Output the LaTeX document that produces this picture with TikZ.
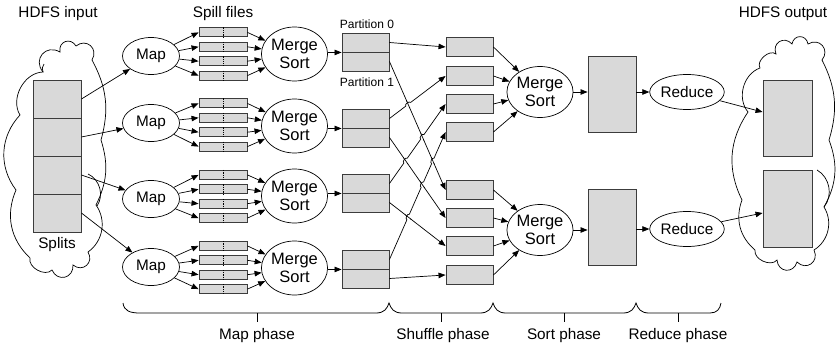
\documentclass[tikz,border=0pt]{standalone}
\usepackage{fontspec}
\setmainfont{Liberation Sans}
\usetikzlibrary{arrows.meta,shapes.geometric,calc,intersections}
\definecolor{boxfill}{RGB}{217,217,217}
\definecolor{boxline}{RGB}{60,60,60}
\newcommand\hopat[6]{%
  \path[name intersections={of=#5 and #6, by=hx}];
  \fill[white] (hx) circle (3pt);
  \draw[line width=0.7pt] ($(hx)!4pt!(#3)$) -- ($(hx)!4pt!(#4)$);
  \draw[line width=0.7pt] ($(hx)!3pt!(#1)$) to[bend left=90] ($(hx)!3pt!(#2)$);
}
\begin{document}
\begin{tikzpicture}[x=1pt,y=-1pt,
  every node/.style={font=\fontsize{15.3}{17}\selectfont},
  gbox/.style={rectangle,draw=boxline,fill=boxfill,line width=0.9pt,inner sep=0pt},
  splitbox/.style={gbox,minimum width=48pt,minimum height=38pt},
  spillbox/.style={gbox,minimum width=48pt,minimum height=9pt},
  partbox/.style={gbox,minimum width=47pt,minimum height=19pt},
  sortbox/.style={gbox,minimum width=48pt,minimum height=76pt},
  oval/.style={ellipse,draw,line width=0.7pt,inner sep=0pt,minimum width=57pt,minimum height=37pt},
  msoval/.style={oval,minimum width=57pt,minimum height=54pt,align=center,font=\fontsize{16.5}{18.5}\selectfont},
  cloudline/.style={line width=0.7pt},
  puff/.style={bend left=80,looseness=1.6},
  arr/.style={-{Triangle[length=7pt,width=5.5pt]},line width=0.7pt},
  smalltxt/.style={font=\fontsize{12}{13}\selectfont},
  brace/.style={line width=0.8pt}
]
\useasboundingbox (0,0) rectangle (836,351);

% input cloud
\draw[cloudline] (20,115) to[bend left=60] (43,72) to[puff] (60,52) to[puff] (76,46)
  to[puff] (92,60) to[bend left=22] (101,140) to[bend left=22] (96,205)
  to[bend left=45] (88,252) to[puff] (73,265) to[puff] (52,270)
  to[bend left=75] (30,258) to[bend left=35] (16,190) to[bend left=40] (20,115) -- cycle;
\draw[cloudline] (88,174) to[bend left=50] (97,206);
\draw[cloudline] (43,72) to[bend left=30] (44,64);
% output cloud
\draw[cloudline] (748,112) to[bend left=55] (760,68) to[bend left=80] (776,54) to[puff] (792,44)
  to[puff] (808,44) to[puff] (822,60) to[bend left=22] (829,140) to[bend left=25] (824,207)
  to[bend left=45] (814,250) to[puff] (797,262) to[puff] (777,260)
  to[bend left=75] (755,250) to[bend left=35] (742,200) to[bend left=30] (748,112) -- cycle;
\draw[cloudline] (817,170) to[bend left=50] (824,207);

% titles
\node (tin) at (58,14) {HDFS input};
\node (tspill) at (223,14) {Spill files};
\node (tout) at (783,14) {HDFS output};

% splits
\node[splitbox] (s1) at (57,99) {};
\node[splitbox] (s2) at (57,137) {};
\node[splitbox] (s3) at (57,175) {};
\node[splitbox] (s4) at (57,213) {};
\node (tsplits) at (57,245) {Splits};

% maps, spills, merge sorts, partitions
\foreach \i/\my/\gy/\sy/\dy in {1/56/54/54/52, 2/123/125/126/128, 3/199/196.5/196/193, 4/267/267.5/268/269}{
  \node[oval] (m\i) at (151,\my) {Map};
  \node[msoval] (ms\i) at (294.5,\sy) {Merge\\Sort};
  \foreach \j/\o in {1/-21.6, 2/-7.2, 3/7.2, 4/21.6}{
    \node[spillbox] (sp\i\j) at (223,\gy+\o) {};
    \draw[line width=0.5pt,dash pattern=on 1.3pt off 1pt] (sp\i\j.north) -- (sp\i\j.south);
    \draw[arr] (m\i) -- (sp\i\j.west);
    \draw[arr] (sp\i\j.east) -- (ms\i);
  }
  \node[partbox] (p\i a) at (365.5,\dy-9.5) {};
  \node[partbox] (p\i b) at (365.5,\dy+9.5) {};
  \draw[arr] (ms\i.east |- p\i a.south west) -- (p\i a.south west);
}
\node[smalltxt] (tp0) at (367,24) {Partition 0};
\node[smalltxt] (tp1) at (367,82) {Partition 1};

% split -> map
\draw[arr] (s1.east) -- (m1);
\draw[arr] (s2.east) -- (m2);
\draw[arr] (s3.east) -- (m3);
\draw[arr] (s4.east) -- (m4);

% shuffle boxes
\foreach \k/\y in {1/47, 2/76, 3/104, 4/132, 5/190, 6/218, 7/246, 8/275}{
  \node[partbox] (sh\k) at (469.5,\y) {};
}
\draw[arr] (p1a.east) -- (sh1.west);
\draw[arr,name path=U2] (p2a.east) -- (sh2.west);
\draw[arr,name path=U3] (p3a.east) -- (sh3.west);
\draw[arr,name path=U4] (p4a.east) -- (sh4.west);
\draw[arr,name path=D1] (p1b.east) -- (sh5.west);
\draw[arr,name path=D2] (p2b.east) -- (sh6.west);
\draw[arr,name path=D3] (p3b.east) -- (sh7.west);
\draw[arr] (p4b.east) -- (sh8.west);
\hopat{p2a.east}{sh2.west}{p1b.east}{sh5.west}{U2}{D1}
\hopat{p3a.east}{sh3.west}{p1b.east}{sh5.west}{U3}{D1}
\hopat{p3a.east}{sh3.west}{p2b.east}{sh6.west}{U3}{D2}
\hopat{p4a.east}{sh4.west}{p1b.east}{sh5.west}{U4}{D1}
\hopat{p4a.east}{sh4.west}{p2b.east}{sh6.west}{U4}{D2}
\hopat{p4a.east}{sh4.west}{p3b.east}{sh7.west}{U4}{D3}

% reduce-side merge sort
\node[msoval,minimum width=58pt,minimum height=51pt] (msr1) at (540,92) {Merge\\Sort};
\node[msoval,minimum width=58pt,minimum height=51pt] (msr2) at (540,230) {Merge\\Sort};
\foreach \k in {1,2,3,4}{ \draw[arr] (sh\k.east) -- (msr1); }
\foreach \k in {5,6,7,8}{ \draw[arr] (sh\k.east) -- (msr2); }

\node[sortbox] (rb1) at (612,94.5) {};
\node[sortbox] (rb2) at (612,227) {};
\draw[arr] (msr1.east) -- (msr1.east -| rb1.west);
\draw[arr] (msr2.east) -- (msr2.east -| rb2.west);

\node[oval,minimum width=66pt,minimum height=35pt] (red1) at (687,92) {Reduce};
\node[oval,minimum width=66pt,minimum height=35pt] (red2) at (687,229) {Reduce};
\draw[arr] (rb1.east |- red1.west) -- (red1.west);
\draw[arr] (rb2.east |- red2.west) -- (red2.west);

\node[gbox,minimum width=49pt,minimum height=76pt] (out1) at (787.5,118) {};
\node[gbox,minimum width=49pt,minimum height=77pt] (out2) at (787.5,208.5) {};
\draw[arr] (red1) -- ([yshift=6pt]out1.west);
\draw[arr] (red2) -- ([yshift=-4.5pt]out2.west);

% braces
\draw[brace] (123,303) .. controls (124,311) and (130,313) .. (140,313) -- (376,313) .. controls (384,313) and (387,309) .. (389,303)
  .. controls (391,309) and (394,313) .. (402,313) -- (480,313) .. controls (488,313) and (491,309) .. (493,303)
  .. controls (495,309) and (498,313) .. (506,313) -- (623,313) .. controls (631,313) and (634,309) .. (636,303)
  .. controls (638,309) and (641,313) .. (649,313) -- (710,313) .. controls (717,313) and (720,309) .. (721,303);
\draw[brace] (257,313) -- (257,322);
\draw[brace] (441,313) -- (441,322);
\draw[brace] (564,313) -- (564,322);
\draw[brace] (678,313) -- (678,322);
\node (lmap) at (257,335.5) {Map phase};
\node (lshuf) at (443,335.5) {Shuffle phase};
\node (lsort) at (564,335.5) {Sort phase};
\node (lred) at (678,335.5) {Reduce phase};
\end{tikzpicture}
\end{document}
